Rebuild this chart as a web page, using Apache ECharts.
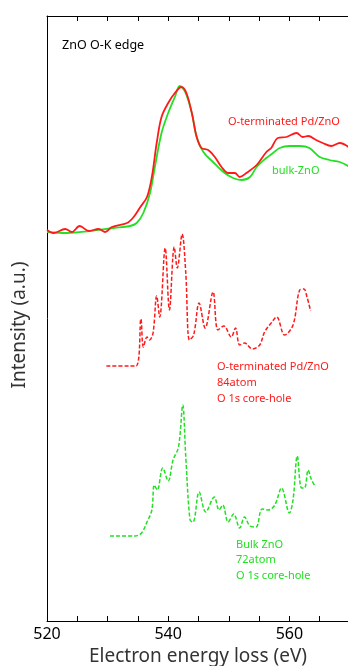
<!DOCTYPE html>
<html>
<head>
<meta charset="utf-8">
<script src="https://cdn.jsdelivr.net/npm/echarts@6/dist/echarts.min.js"></script>
<style>
    html, body {margin: 0; padding: 0; background: #fff;}
    #main {width: 348px; height: 666px;}
</style>
</head>
<body>
<div id="main"></div>
<script>
    // 实验谱 (solid)  [eV, intensity]
    const expPdZnO = [[520.0, 391], [521.1, 388], [523.0, 392], [524.1, 389], [525.4, 395], [526.9, 390], [528.5, 392],
        [529.6, 389], [530.7, 394], [533.2, 398], [534.3, 404], [535.4, 414], [536.5, 424], [537.3, 444], [538.1, 478],
        [538.9, 504], [540.0, 518], [541.1, 528], [542.2, 534], [543.0, 528], [543.9, 508], [544.7, 484], [545.5, 473],
        [546.6, 471], [547.7, 464], [548.8, 454], [549.9, 448], [551.0, 448], [551.8, 444], [552.9, 448], [554.6, 456],
        [556.2, 469], [557.0, 473], [558.1, 483], [559.5, 484], [561.2, 488], [562.2, 484], [563.1, 485], [564.4, 481],
        [565.5, 478], [566.9, 475], [568.3, 478], [570.0, 473]];
    const expBulk = [[520.0, 389], [523.3, 388], [527.1, 390], [531.0, 393], [533.7, 395], [534.8, 398], [535.9, 408],
        [537.0, 428], [537.8, 454], [538.9, 488], [540.0, 508], [541.1, 524], [541.9, 535], [542.8, 529], [543.9, 508],
        [544.7, 484], [545.8, 469], [547.4, 459], [549.1, 449], [550.7, 443], [552.1, 441], [553.5, 444], [554.6, 454],
        [556.2, 463], [557.3, 468], [558.4, 473], [560.0, 475], [561.7, 475], [563.3, 473], [565.0, 464], [566.6, 461],
        [568.3, 459], [570.0, 454]];
    // 计算谱 (dashed)
    const calcPdZnO = [[529.8, 255], [534.7, 255], [535.5, 302], [535.9, 274], [536.5, 284], [536.9, 281], [537.5, 288],
        [538.1, 325], [538.6, 304], [539.5, 373], [540.2, 311], [541.0, 374], [541.5, 353], [542.3, 387], [542.9, 348],
        [543.5, 281], [544.2, 286], [545.1, 318], [546.1, 293], [547.4, 329], [548.2, 291], [549.2, 295], [550.4, 284],
        [551.1, 293], [551.8, 276], [552.6, 278], [553.9, 272], [555.1, 276], [555.9, 289], [557.0, 298], [557.9, 304],
        [559.2, 286], [560.6, 296], [561.7, 331], [562.4, 332], [562.9, 324], [563.5, 310]];
    const calcBulk = [[530.4, 85], [534.5, 85], [535.6, 88], [536.5, 99], [537.3, 111], [537.7, 136], [538.2, 131],
        [539.1, 153], [540.0, 140], [540.8, 161], [541.7, 174], [542.4, 216], [542.9, 164], [543.6, 101], [544.1, 99],
        [545.1, 129], [546.2, 109], [547.6, 124], [548.4, 111], [549.0, 116], [549.9, 99], [550.8, 107], [551.8, 93],
        [552.6, 104], [553.5, 95], [554.5, 94], [555.5, 112], [556.5, 111], [557.6, 116], [558.7, 133], [560.0, 108],
        [560.6, 121], [561.3, 165], [562.0, 133], [562.5, 133], [563.1, 151], [563.6, 142], [564.3, 134]];

    // x 轴刻度 / 标签
    const xLabelValues = [520, 540, 560];
    const xTickValues = [520, 525, 530, 535, 540, 545, 550, 555, 560, 565];

    const RED = '#ff1a1a';
    const GREEN = '#22e022';
    const FONT = '"Noto Sans", sans-serif';

    const chart = echarts.init(document.getElementById('main'));

    function lineSeries(data, color, dashed) {
        return {
            type: 'line',
            xAxisIndex: 0,
            yAxisIndex: 0,
            data: data,
            showSymbol: false,
            smooth: 0.35,
            lineStyle: {color: color, width: dashed ? 1.5 : 1.8, type: dashed ? [4, 2] : 'solid'}
        };
    }

    function xAxisCfg(pos) {
        return {
            type: 'value',
            position: pos,
            min: 520,
            max: 570,
            splitLine: {show: false},
            axisLine: {show: true, onZero: false, lineStyle: {color: '#000', width: 1}},
            axisTick: {show: true, inside: true, length: 5, customValues: xTickValues, lineStyle: {color: '#000', width: 1}},
            axisLabel: {
                show: pos === 'bottom',
                customValues: xLabelValues,
                color: '#000', fontSize: 16, margin: 5, fontFamily: FONT
            }
        };
    }

    function note(text, left, top, color, size, lh) {
        return {
            type: 'text', left: left, top: top,
            style: {text: text, fill: color, fontSize: size, fontFamily: FONT, lineHeight: lh || Math.round(size * 1.3)}
        };
    }

    const option = {
        backgroundColor: '#fff',
        animation: false,
        grid: {left: 47, right: -2, top: 16, bottom: 45, outerBoundsMode: 'none'},
        xAxis: [xAxisCfg('bottom'), xAxisCfg('top')],
        yAxis: {
            type: 'value',
            min: 0,
            max: 605,
            splitLine: {show: false},
            axisLine: {show: true, lineStyle: {color: '#000', width: 1}},
            axisTick: {show: false},
            axisLabel: {show: false}
        },
        graphic: [
            {
                type: 'text', x: 198, y: 657,
                style: {text: 'Electron energy loss (eV)', fill: '#333', fontSize: 19, fontFamily: FONT, align: 'center', verticalAlign: 'middle'}
            },
            {
                type: 'text', x: 20, y: 325, rotation: Math.PI / 2,
                style: {text: 'Intensity (a.u.)', fill: '#333', fontSize: 19, fontFamily: FONT, align: 'center', verticalAlign: 'middle'}
            },
            note('ZnO O-K edge', 62, 37, '#000', 12.5),
            note('O-terminated Pd/ZnO', 228, 115, RED, 11),
            note('bulk-ZnO', 272, 164, GREEN, 11),
            note('O-terminated Pd/ZnO\n84atom\nO 1s core-hole', 217, 359, RED, 11, 16),
            note('Bulk ZnO\n72atom\nO 1s core-hole', 236, 537, GREEN, 11, 15.5)
        ],
        series: [
            lineSeries(expBulk, GREEN, false),
            lineSeries(expPdZnO, RED, false),
            lineSeries(calcPdZnO, RED, true),
            lineSeries(calcBulk, GREEN, true)
        ]
    };

    chart.setOption(option);
</script>
</body>
</html>
